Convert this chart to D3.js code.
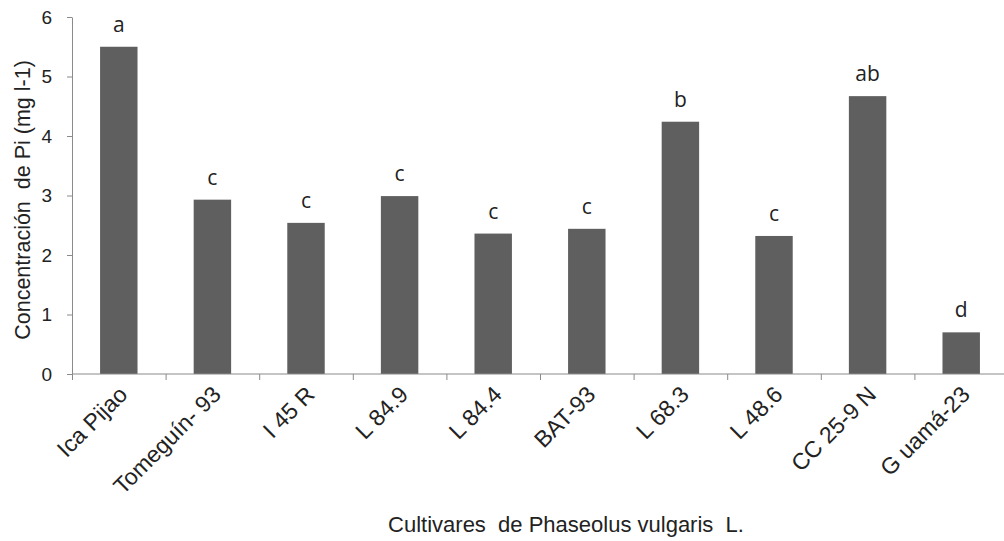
<!DOCTYPE html>
<html>
<head>
<meta charset="utf-8">
<script src="https://cdn.jsdelivr.net/npm/d3@7"></script>
<style>
  body { margin: 0; background: #fff; }
  text { font-family: "Liberation Sans", Arial, sans-serif; fill: #222; }
</style>
</head>
<body>
<div id="chart"></div>
<script>
// data
var cultivars = ["Ica Pijao", "Tomeguín- 93", "I 45 R", "L 84.9", "L 84.4", "BAT-93", "L 68.3", "L 48.6", "CC 25-9 N", "G uamá-23"];
var values = [5.5, 2.93, 2.54, 2.99, 2.36, 2.44, 4.24, 2.32, 4.67, 0.70];
var letters = ["a", "c", "c", "c", "c", "c", "b", "c", "ab", "d"];
var yTicks = [0, 1, 2, 3, 4, 5, 6];

var data = cultivars.map(function (c, i) {
    return {name: c, value: values[i], letter: letters[i]};
});

// dimensions
var margin = {top: 17, right: -4, bottom: 167, left: 72},
    width = 1004 - margin.left - margin.right,
    height = 541 - margin.top - margin.bottom;

var svg = d3.select("#chart")
    .append("svg")
    .attr("width", 1004)
    .attr("height", 541)
    .append("g")
    .attr("transform", "translate(" + margin.left + "," + margin.top + ")");

// X scale
var x = d3.scaleBand()
    .domain(cultivars)
    .range([0, 936])
    .paddingInner(0.6)
    .paddingOuter(0.3);

// Y scale
var y = d3.scaleLinear()
    .domain([0, 6])
    .range([height, 0]);

// bars
svg.append("g")
    .selectAll("rect")
    .data(data)
    .enter()
    .append("rect")
    .attr("x", function (d) { return x(d.name); })
    .attr("y", function (d) { return y(d.value); })
    .attr("width", x.bandwidth())
    .attr("height", function (d) { return height - y(d.value); })
    .style("fill", "#5f5f5f");

// significance letters
svg.append("g")
    .selectAll("text")
    .data(data)
    .enter()
    .append("text")
    .attr("x", function (d) { return x(d.name) + x.bandwidth() / 2; })
    .attr("y", function (d) { return y(d.value) - 15; })
    .attr("text-anchor", "middle")
    .style("font-family", "'Open Sans', sans-serif")
    .style("font-size", "21px")
    .text(function (d) { return d.letter; });

// Y axis
var yAxis = svg.append("g")
    .call(d3.axisLeft(y).tickValues(yTicks).tickFormat(d3.format("d"))
        .tickSize(5).tickSizeOuter(0).tickPadding(15));
yAxis.selectAll("text").style("font-size", "19px").style("fill", "#222");
yAxis.selectAll("path, line").attr("stroke", "#8a8a8a");

// X axis: ticks on band boundaries
var step = x.step();
var xAxis = svg.append("g")
    .attr("transform", "translate(0," + height + ")");
xAxis.append("line")
    .attr("x1", 0).attr("x2", 936)
    .attr("stroke", "#8a8a8a");
xAxis.selectAll(".tk")
    .data(d3.range(cultivars.length))
    .enter()
    .append("line")
    .attr("x1", function (i) { return x(cultivars[i]) - step * 0.3 + 0.5; })
    .attr("x2", function (i) { return x(cultivars[i]) - step * 0.3 + 0.5; })
    .attr("y1", 0).attr("y2", 6)
    .attr("stroke", "#8a8a8a");

// category labels
xAxis.selectAll(".lbl")
    .data(cultivars)
    .enter()
    .append("text")
    .attr("text-anchor", "end")
    .attr("transform", function (d) {
        return "translate(" + (x(d) + x.bandwidth() / 2 + 10) + ",22) rotate(-45)";
    })
    .style("font-size", "23px")
    .text(function (d) { return d; });

// axis titles
svg.append("text")
    .attr("text-anchor", "middle")
    .attr("transform", "translate(" + (-42) + "," + (200 - margin.top) + ") rotate(-90)")
    .style("font-size", "21.5px")
    .style("white-space", "pre")
    .text("Concentración  de Pi (mg l-1)");

svg.append("text")
    .attr("x", 566 - margin.left)
    .attr("y", 532 - margin.top)
    .attr("text-anchor", "middle")
    .style("font-size", "22px")
    .style("white-space", "pre")
    .text("Cultivares  de Phaseolus vulgaris  L.");
</script>
</body>
</html>
